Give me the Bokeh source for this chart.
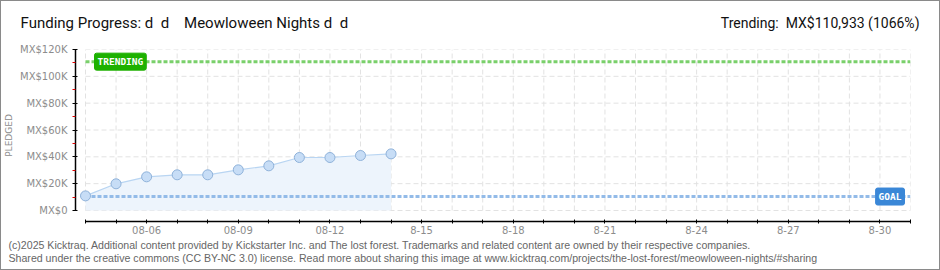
import math
from bokeh.plotting import figure
from bokeh.models import Range1d, FixedTicker, Label
from bokeh.embed import file_html
from bokeh.resources import INLINE

NB = "\u00a0"
# ---------------- data ----------------
title_left = f"Funding Progress: d{NB}{NB}d{NB}{NB}{NB}{NB}Meowloween Nights d{NB}{NB}d"
title_right = f"Trending:{NB}{NB}MX$110,933 (1066%)"
footer_1 = ("(c)2025 Kicktraq. Additional content provided by Kickstarter Inc. and The lost forest. "
            "Trademarks and related content are owned by their respective companies.")
footer_2 = ("Shared under the creative commons (CC BY-NC 3.0) license. Read more about sharing this image at "
            "www.kicktraq.com/projects/the-lost-forest/meowloween-nights/#sharing")
y_axis_title = "PLEDGED"

axis_days = ["08-04", "08-05", "08-06", "08-07", "08-08", "08-09", "08-10", "08-11", "08-12", "08-13",
             "08-14", "08-15", "08-16", "08-17", "08-18", "08-19", "08-20", "08-21", "08-22", "08-23",
             "08-24", "08-25", "08-26", "08-27", "08-28", "08-29", "08-30", "08-31"]
x_tick_labels = {"08-06": "08-06", "08-09": "08-09", "08-12": "08-12", "08-15": "8-15", "08-18": "8-18",
                 "08-21": "8-21", "08-24": "8-24", "08-27": "8-27", "08-30": "8-30"}
pledge_dates = ["08-04", "08-05", "08-06", "08-07", "08-08", "08-09", "08-10", "08-11", "08-12", "08-13", "08-14"]
pledged = [10900, 19900, 25100, 26600, 26600, 30300, 33300, 39500, 39500, 41000, 42200]
goal = 10406
trending = 110933
y_ticks = [0, 20000, 40000, 60000, 80000, 100000, 120000]
y_minor_ticks = [10000, 30000, 50000, 70000, 90000, 110000]
y_tick_labels = ["MX$0", "MX$20K", "MX$40K", "MX$60K", "MX$80K", "MX$100K", "MX$120K"]

# ---------------- layout ----------------
W, H = 940, 270
header_h, footer_h = 36, 32
main_h = H - header_h - footer_h
frame_left, frame_right, frame_top, frame_bottom = 75, 910, 49, 221   # canvas px (whole page)
data_left_px, zero_px = 85, 210
n_days = len(axis_days) - 1
px_per_day = (frame_right - data_left_px) / n_days
x_start = -(data_left_px - frame_left) / px_per_day
y_per_px = y_ticks[-1] / (zero_px - frame_top)
y_start = -(frame_bottom - zero_px) * y_per_px
BORDER = "#8a8a8a"

day_index = {d: i for i, d in enumerate(axis_days)}
xs = [day_index[d] for d in pledge_dates]


def blank(height, shadow):
    f = figure(width=W, height=height, output_backend="svg", toolbar_location=None,
               x_axis_location=None, y_axis_location=None, min_border=0,
               x_range=Range1d(0, 1), y_range=Range1d(0, 1))
    f.outline_line_color = None
    f.xgrid.visible = False
    f.ygrid.visible = False
    f.background_fill_color = None
    f.border_fill_color = None
    f.styles = {"box-shadow": shadow}
    return f


# ---- header ----
head = blank(header_h, f"inset 1px 1px 0 0 {BORDER}, inset -1px 0 0 0 {BORDER}")
head.add_layout(Label(x=20, y=header_h - 22, x_units="screen", y_units="screen", text=title_left,
                      text_align="left", text_baseline="middle", text_font="Roboto",
                      text_font_size="15px", text_color="#111111"))
head.add_layout(Label(x=919, y=header_h - 22, x_units="screen", y_units="screen", text=title_right,
                      text_align="right", text_baseline="middle", text_font="Roboto",
                      text_font_size="14px", text_color="#111111"))

# ---- main plot ----
p = figure(width=W, height=main_h, output_backend="svg", toolbar_location=None,
           x_range=Range1d(x_start, n_days), y_range=Range1d(y_start, y_ticks[-1]),
           min_border_left=frame_left, min_border_right=W - frame_right,
           min_border_top=frame_top - header_h, min_border_bottom=header_h + main_h - frame_bottom)
p.outline_line_color = None
p.background_fill_color = None
p.border_fill_color = None
p.styles = {"box-shadow": f"inset 1px 0 0 0 {BORDER}, inset -1px 0 0 0 {BORDER}"}
p.xgrid.visible = False
p.ygrid.visible = False

grid_kw = dict(line_color="#e2e2e2", line_width=1, line_dash="5 3")
p.segment(x0=list(range(len(axis_days))), y0=[0] * len(axis_days),
          x1=list(range(len(axis_days))), y1=[y_ticks[-1]] * len(axis_days), **grid_kw)
p.segment(x0=[0] * len(y_ticks), y0=y_ticks, x1=[n_days] * len(y_ticks), y1=y_ticks, **grid_kw)

p.varea(x=xs, y1=[0] * len(xs), y2=pledged, fill_color="#edf4fc")

p.line(x=[0, n_days], y=[goal, goal], line_color="#93bbe8", line_width=3, line_dash="4 2")
p.line(x=[0, n_days], y=[trending, trending], line_color="#7ad06b", line_width=3, line_dash="4 2")

p.line(x=xs, y=pledged, line_color="#b9d5f2", line_width=1.2)
p.scatter(x=xs, y=pledged, size=10, fill_color="#c7ddf6", line_color="#8fb2da", line_width=1)

p.xaxis.ticker = FixedTicker(ticks=list(range(len(axis_days))))
p.xaxis.major_label_overrides = {i: x_tick_labels.get(d, "") for i, d in enumerate(axis_days)}
p.xaxis.bounds = (0, n_days)
p.xaxis.axis_line_color = "black"
p.xaxis.axis_line_width = 1.5
p.xaxis.major_tick_line_color = "black"
p.xaxis.major_tick_in = 2
p.xaxis.major_tick_out = 2
p.xaxis.minor_tick_line_color = None
p.xaxis.major_label_standoff = 2
p.xaxis.major_label_text_font = "DejaVu Sans"
p.xaxis.major_label_text_font_size = "10px"
p.xaxis.major_label_text_color = "#8c8c8c"

p.yaxis.ticker = FixedTicker(ticks=y_ticks, minor_ticks=y_minor_ticks)
p.yaxis.major_label_overrides = {t: l for t, l in zip(y_ticks, y_tick_labels)}
p.yaxis.bounds = (0, y_ticks[-1])
p.yaxis.axis_line_color = "black"
p.yaxis.axis_line_width = 1.5
p.yaxis.major_tick_line_color = "black"
p.yaxis.major_tick_in = 2
p.yaxis.major_tick_out = 3
p.yaxis.minor_tick_line_color = "#e00000"
p.yaxis.minor_tick_in = 0
p.yaxis.minor_tick_out = 3
p.yaxis.major_label_standoff = 5
p.yaxis.major_label_text_font = "DejaVu Sans"
p.yaxis.major_label_text_font_size = "10px"
p.yaxis.major_label_text_color = "#8c8c8c"
p.yaxis.axis_label = y_axis_title
p.yaxis.axis_label_standoff = 3
p.yaxis.axis_label_text_font = "DejaVu Sans"
p.yaxis.axis_label_text_font_size = "9px"
p.yaxis.axis_label_text_font_style = "normal"
p.yaxis.axis_label_text_color = "#8c8c8c"

p.add_layout(Label(x=0, y=trending, x_offset=9, text="TRENDING", text_align="left", text_baseline="middle",
                   text_font="DejaVu Sans Mono", text_font_style="bold", text_font_size="9.5px",
                   text_color="white", background_fill_color="#1db100", border_line_color="#1db100",
                   padding=3, border_radius=2))
p.add_layout(Label(x=n_days, y=goal, x_offset=-6, text="GOAL", text_align="right", text_baseline="middle",
                   text_font="DejaVu Sans Mono", text_font_style="bold", text_font_size="9.5px",
                   text_color="white", background_fill_color="#3a87d7", border_line_color="#3a87d7",
                   padding=3, border_radius=2))

# ---- footer ----
foot = blank(footer_h, f"inset 1px -1px 0 0 {BORDER}, inset -1px 0 0 0 {BORDER}")
foot.add_layout(Label(x=8, y=H - 244, x_units="screen", y_units="screen", text=footer_1,
                      text_align="left", text_baseline="middle", text_font="Liberation Sans",
                      text_font_size="10.6px", text_color="#666666"))
foot.add_layout(Label(x=8, y=H - 257, x_units="screen", y_units="screen", text=footer_2,
                      text_align="left", text_baseline="middle", text_font="Liberation Sans",
                      text_font_size="10.6px", text_color="#666666"))

# separate roots so that the header/footer frames are not aligned with the main frame
open("out.html", "w").write(file_html([head, p, foot], INLINE))
